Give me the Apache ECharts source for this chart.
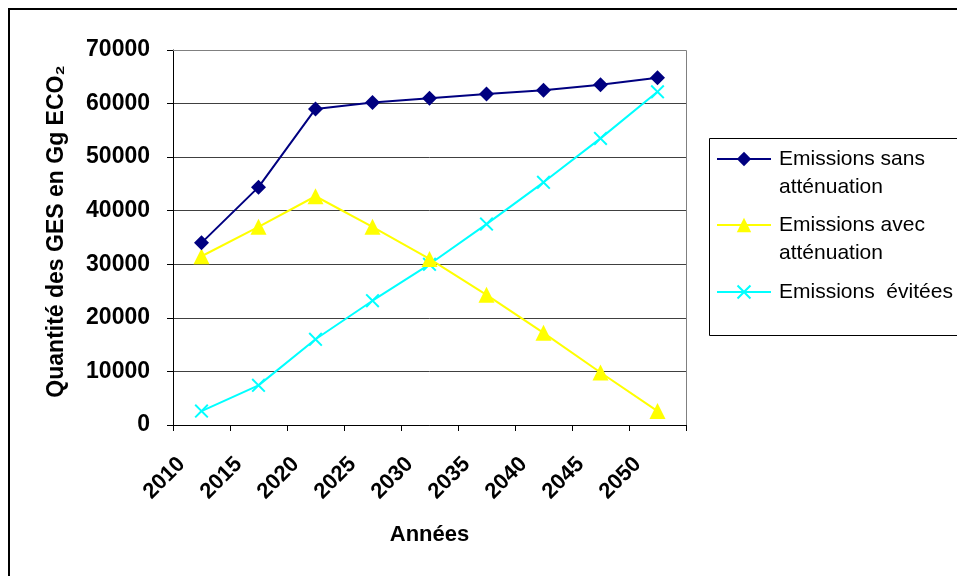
<!DOCTYPE html>
<html>
<head>
<meta charset="utf-8">
<script src="https://cdn.jsdelivr.net/npm/echarts@6/dist/echarts.min.js"></script>
<style>html,body{margin:0;padding:0;background:#fff}#c{width:957px;height:576px}</style>
</head>
<body>
<div id="c"></div>
<script>
const years = ['2010','2015','2020','2025','2030','2035','2040','2045','2050'];
const sansAttenuation = [34000, 44400, 59000, 60200, 61000, 61800, 62500, 63500, 64800];
const avecAttenuation = [31500, 37000, 42700, 37000, 31000, 24300, 17200, 9800, 2600];
const evitees = [2600, 7400, 16000, 23200, 30000, 37500, 45300, 53500, 62200];
const seriesNames = ['Emissions sans atténuation', 'Emissions avec atténuation', 'Emissions  évitées'];
const legendLabels = ['\nEmissions sans\natténuation', '\nEmissions avec\natténuation', 'Emissions  évitées'];

const FONT = '"Liberation Sans", Arial, sans-serif';
const crossPath = 'path://M1,0L5,4L9,0L10,1L6,5L10,9L9,10L5,6L1,10L0,9L4,5L0,1Z';

const chart = echarts.init(document.getElementById('c'), null, {renderer: 'canvas'});

function mkLegend(i, top) {
  return {
    show: true, data: [seriesNames[i]], left: 716, top: top, padding: 0,
    itemWidth: 54, itemHeight: 18, itemGap: 0,
    formatter: () => legendLabels[i],
    textStyle: {fontFamily: FONT, fontSize: 21, color: '#000', lineHeight: 28, padding: [0, 0, 0, 3]}
  };
}

chart.setOption({
  animation: false,
  backgroundColor: '#fff',
  graphic: [
    {type: 'rect', shape: {x: 9, y: 9, width: 970, height: 590}, style: {fill: 'none', stroke: '#000', lineWidth: 2}, z: 0},
    {type: 'rect', shape: {x: 709.5, y: 138.5, width: 260, height: 197}, style: {fill: 'none', stroke: '#000', lineWidth: 1}, z: 0},
    {type: 'polyline', shape: {points: [[173, 50.5], [686.5, 50.5], [686.5, 425]]}, style: {stroke: '#808080', lineWidth: 1, fill: 'none'}, z: 1}
  ],
  legend: [mkLegend(0, 117), mkLegend(1, 183), mkLegend(2, 278)],
  grid: {left: 173, right: 271, top: 50, bottom: 151, containLabel: false},
  xAxis: {
    type: 'category', data: years, boundaryGap: true,
    name: 'Années', nameLocation: 'middle', nameGap: 99,
    nameTextStyle: {fontFamily: FONT, fontSize: 22, fontWeight: 'bold', color: '#000'},
    axisLine: {lineStyle: {color: '#000', width: 1}},
    axisTick: {show: true, length: 6, inside: false, alignWithLabel: false, lineStyle: {color: '#000'}},
    axisLabel: {rotate: 45, margin: 16, padding: [0, 28, 0, 0], fontFamily: FONT, fontSize: 22, fontWeight: 'bold', color: '#000', interval: 0},
    splitLine: {show: false}
  },
  yAxis: {
    type: 'value', min: 0, max: 70000, interval: 10000,
    name: 'Quantité des GES en Gg ECO₂', nameLocation: 'middle', nameGap: 105,
    nameTextStyle: {fontFamily: FONT, fontSize: 23, fontWeight: 'bold', color: '#000', padding: [0, 0, 0, 12]},
    axisLine: {show: true, lineStyle: {color: '#000', width: 1}},
    axisTick: {show: true, length: 6, lineStyle: {color: '#000'}},
    axisLabel: {margin: 23, fontFamily: FONT, fontSize: 23, fontWeight: 'bold', color: '#000', formatter: v => String(v)},
    splitLine: {show: true, lineStyle: {color: '#404040', width: 1}}
  },
  series: [
    {name: seriesNames[0], type: 'line', data: sansAttenuation, symbol: 'diamond', symbolSize: 15,
     itemStyle: {color: '#000080'}, lineStyle: {color: '#000080', width: 2}, z: 5},
    {name: seriesNames[1], type: 'line', data: avecAttenuation, symbol: 'triangle', symbolSize: 16,
     itemStyle: {color: '#FFFF00'}, lineStyle: {color: '#FFFF00', width: 2}, z: 4},
    {name: seriesNames[2], type: 'line', data: evitees, symbol: crossPath, symbolSize: 14,
     itemStyle: {color: '#00FFFF'}, lineStyle: {color: '#00FFFF', width: 2}, z: 3}
  ]
});
</script>
</body>
</html>
